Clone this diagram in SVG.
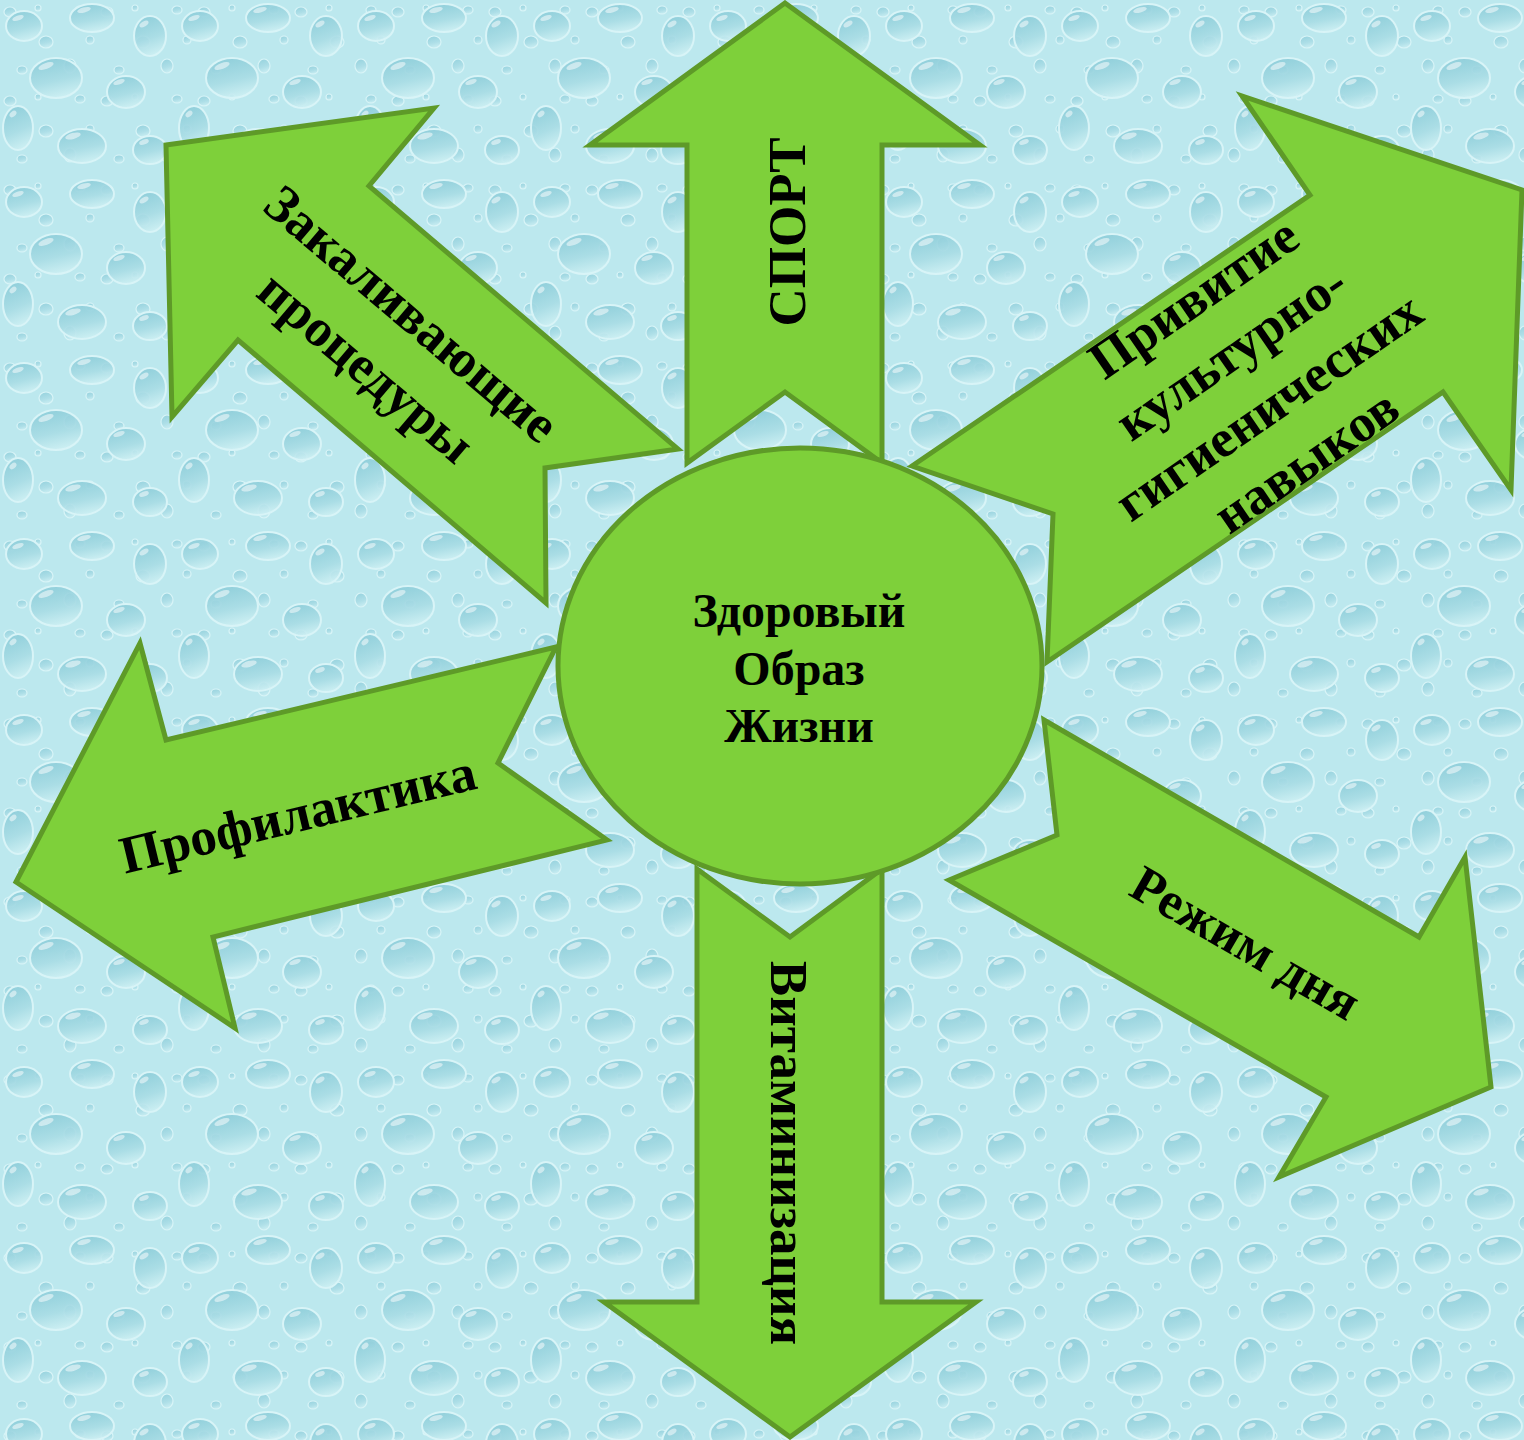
<svg xmlns="http://www.w3.org/2000/svg" width="1524" height="1440" viewBox="0 0 1524 1440">
<defs>
<linearGradient id="dropg" x1="0.2" y1="0" x2="0.5" y2="1">
<stop offset="0" stop-color="#8ACBD8"/>
<stop offset="0.6" stop-color="#A9DCE5"/>
<stop offset="1" stop-color="#CDEFF3"/>
</linearGradient>
<pattern id="bigdrops" width="176" height="176" patternUnits="userSpaceOnUse">
<g fill="url(#dropg)" stroke="#D8F4F7" stroke-width="2" fill-opacity="0.9">
<ellipse cx="24" cy="26" rx="18" ry="15"/>
<ellipse cx="92" cy="18" rx="22" ry="14"/>
<ellipse cx="150" cy="36" rx="16" ry="20"/>
<ellipse cx="56" cy="78" rx="26" ry="20"/>
<ellipse cx="126" cy="92" rx="19" ry="16"/>
<ellipse cx="18" cy="128" rx="15" ry="22"/>
<ellipse cx="82" cy="146" rx="24" ry="17"/>
<ellipse cx="150" cy="150" rx="17" ry="14"/>
</g>
<g fill="#FFFFFF" fill-opacity="0.5">
<ellipse cx="18" cy="18" rx="6" ry="2.5" transform="rotate(-20 18 18)"/>
<ellipse cx="84" cy="10" rx="7" ry="2.5" transform="rotate(-15 84 10)"/>
<ellipse cx="144" cy="24" rx="5" ry="2.5" transform="rotate(-30 144 24)"/>
<ellipse cx="46" cy="66" rx="8" ry="3" transform="rotate(-20 46 66)"/>
<ellipse cx="119" cy="82" rx="6" ry="2.5" transform="rotate(-20 119 82)"/>
<ellipse cx="13" cy="114" rx="4" ry="2.5" transform="rotate(-40 13 114)"/>
<ellipse cx="73" cy="136" rx="8" ry="3" transform="rotate(-15 73 136)"/>
<ellipse cx="144" cy="142" rx="5" ry="2.5" transform="rotate(-20 144 142)"/>
</g>
</pattern>
<pattern id="smalldrops" width="97" height="89" patternUnits="userSpaceOnUse">
<g fill="url(#dropg)" stroke="#D8F4F7" stroke-width="1.2" fill-opacity="0.75">
<ellipse cx="10" cy="12" rx="6" ry="5"/>
<ellipse cx="46" cy="42" rx="7" ry="6"/>
<ellipse cx="80" cy="10" rx="5" ry="4"/>
<ellipse cx="70" cy="66" rx="6" ry="7"/>
<ellipse cx="22" cy="70" rx="5" ry="4"/>
<ellipse cx="90" cy="40" rx="4" ry="4"/>
<ellipse cx="38" cy="8" rx="3" ry="3"/>
</g>
</pattern>
<style>
.arrow{fill:#7ED03A;stroke:#5E9A28;stroke-width:5;stroke-linejoin:miter}
.lbl{font-family:"Liberation Serif","Times New Roman",serif;font-weight:bold;fill:#000;text-anchor:middle}
</style>
</defs>
<rect width="1524" height="1440" fill="#BCE8EE"/>
<rect width="1524" height="1440" fill="url(#smalldrops)"/>
<rect width="1524" height="1440" fill="url(#bigdrops)"/>
<g id="connectors">
<g id="arrow-sport">
<polygon class="arrow" points="785,3 980,145 882,145 882,463 785,392 687,463 687,145 590,145"/>
<text class="lbl" font-size="53" transform="translate(805,232) rotate(-90)">СПОРТ</text>
</g>
<g id="arrow-vitamin">
<polygon class="arrow" points="697,869 790,937 882,869 882,1302 976,1302 790,1437 604,1302 697,1302"/>
<text class="lbl" font-size="53" transform="translate(771,1153) rotate(90)">Витаминизация</text>
</g>
<g id="arrow-zakal">
<polygon class="arrow" points="166,145 434,108 369,186 678,449 545,468 546,603 238,340 172,417"/>
<text class="lbl" font-size="53" transform="translate(386,344) rotate(40.3)"><tspan x="0" y="-22">Закаливающие</tspan><tspan x="0" y="48">процедуры</tspan></text>
</g>
<g id="arrow-privitie">
<polygon class="arrow" points="912,466 1310,195 1242,96 1522,190 1511,490 1443,392 1047,662 1053,514"/>
<text class="lbl" font-size="53" transform="translate(1253,384) rotate(-34.6)"><tspan x="0" y="-87">Привитие</tspan><tspan x="0" y="-21">культурно-</tspan><tspan x="0" y="45">гигиенических</tspan><tspan x="0" y="111">навыков</tspan></text>
</g>
<g id="arrow-profil">
<polygon class="arrow" points="16,882 140,643 166,740 556,647 498,763 607,840 213,937 235,1028"/>
<text class="lbl" font-size="53" transform="translate(302,831) rotate(-13.6)">Профилактика</text>
</g>
<g id="arrow-rezhim">
<polygon class="arrow" points="1044,720 1419,937 1465,857 1491,1087 1279,1177 1326,1097 949,880 1057,835"/>
<text class="lbl" font-size="52" transform="translate(1237,958) rotate(30)">Режим дня</text>
</g>
</g>
<g id="node-center">
<ellipse cx="800" cy="666" rx="242" ry="218" fill="#7ED03A" stroke="#5E9A28" stroke-width="5"/>
<text class="lbl" font-size="48"><tspan x="799" y="627">Здоровый</tspan><tspan x="799" y="685">Образ</tspan><tspan x="799" y="742">Жизни</tspan></text>
</g>
</svg>
